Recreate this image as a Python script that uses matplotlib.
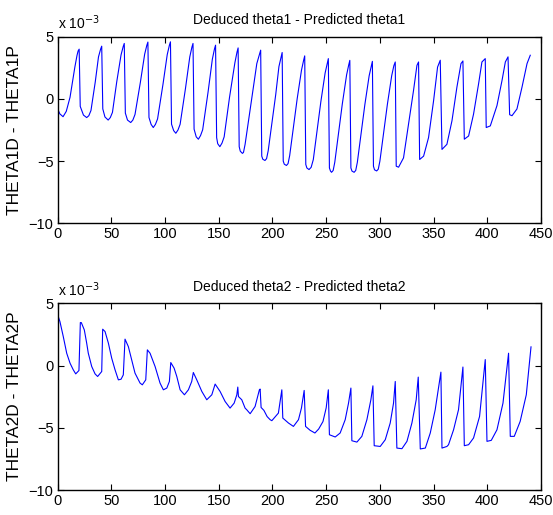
import numpy as np
import matplotlib
matplotlib.use('Agg')
import matplotlib.pyplot as plt

plt.rcParams['font.family'] = ['Liberation Sans', 'DejaVu Sans']

# values in units of 1e-3 (as shown on the axis)
# theta1: deduced - predicted, key points of the trace (sample index, value)
theta1_x = [0, 2, 5, 8, 11.5, 14, 16, 18, 19, 20,
            21, 24, 27, 29, 31, 35, 38, 40, 41,
            42, 44, 47, 49, 51, 55, 59, 61, 62,
            63, 65, 68, 70, 72, 77, 81, 83, 84,
            85, 87, 89, 91, 93, 98, 102, 104, 105,
            106, 108, 110, 112, 114, 119, 123, 125, 126,
            127, 129, 131, 133, 135, 140, 144, 146, 147,
            148, 149, 151, 153, 155, 160, 165, 167, 168,
            169, 170, 172, 173, 174.5, 181.7, 185.4, 188, 189,
            190, 191, 193, 194.5, 196, 203, 206, 208, 209,
            210, 211, 213, 214.5, 216, 223, 227, 229, 230,
            231, 232, 234, 236, 238, 245, 249, 251, 252,
            253, 254, 255, 256.5, 258, 265, 269, 271, 272,
            273, 274, 276, 277.5, 279, 286, 290, 292, 293,
            294, 295, 297, 298.5, 300, 307, 311, 313, 314.3,
            315.2, 317.4, 322, 326.7, 331.3, 334.5, 336,
            337, 340.7, 345.3, 350, 353.7, 356.2,
            357.8, 362.4, 367.1, 371.7, 375.5, 377.3,
            378.6, 382.6, 387.2, 391.9, 395, 398.1,
            399, 402.8, 409, 413.7, 416.8, 419.3,
            420.8, 423, 427.6, 432.3, 437, 440]
theta1_y = [-0.81, -1.2, -1.43, -1.0, 0.13, 1.45, 2.56, 3.5, 3.85, 4.0,
            -0.6, -1.3, -1.5, -1.35, -0.93, 1.37, 3.38, 4.01, 4.24,
            -0.8, -1.45, -1.7, -1.5, -1.08, 1.38, 3.54, 4.21, 4.46,
            -1.14, -1.7, -1.9, -1.7, -1.25, 1.34, 3.6, 4.31, 4.57,
            -1.49, -2.05, -2.3, -2.05, -1.61, 1.15, 3.56, 4.31, 4.59,
            -2.03, -2.55, -2.76, -2.5, -2.04, 0.85, 3.38, 4.17, 4.46,
            -2.43, -3.05, -3.24, -2.95, -2.48, 0.54, 3.19, 4.02, 4.32,
            -3.11, -3.6, -3.84, -3.55, -3.05, 0.13, 2.91, 3.78, 4.1,
            -3.84, -4.2, -4.38, -4.3, -3.65, 0.67, 2.84, 3.6, 3.92,
            -4.6, -4.85, -4.95, -4.8, -4.17, 0.34, 2.6, 3.38, 3.73,
            -5.0, -5.25, -5.35, -5.2, -4.56, 0.02, 2.31, 3.11, 3.46,
            -5.27, -5.55, -5.68, -5.5, -4.88, -0.24, 2.08, 2.88, 3.24,
            -5.55, -5.8, -5.9, -5.75, -5.09, -0.41, 1.93, 2.74, 3.1,
            -5.55, -5.8, -5.9, -5.75, -5.1, -0.46, 1.86, 2.66, 3.02,
            -5.41, -5.7, -5.79, -5.65, -5.0, -0.42, 1.87, 2.67, 2.97,
            -5.41, -5.49, -4.74, -2.03, 0.67, 2.7, 2.97,
            -4.87, -4.6, -3.11, -0.14, 2.56, 3.11,
            -4.06, -3.65, -1.76, 0.94, 2.84, 3.05,
            -3.24, -2.98, -1.22, 1.22, 2.97, 3.24,
            -2.3, -2.17, -0.54, 1.48, 2.97, 3.38,
            -1.27, -1.35, -0.81, 0.94, 2.84, 3.51]

# theta2: deduced - predicted
theta2_x = [0, 2.1, 5.2, 8.4, 11.5, 14.5, 16.8, 19.8,
            21.1, 22, 24.8, 27, 28.5, 31.7, 34.8, 37.2, 41,
            41.9, 44.1, 47.2, 50.3, 53.4, 56.5, 59, 61.1,
            62.7, 65.8, 68.9, 72, 76.7, 78.8, 82,
            83.5, 86, 90.7, 95.3, 98.4, 101.6, 104,
            105.3, 108.4, 110.9, 114, 118, 121.7, 124.8,
            126.3, 129.5, 134.2, 138.8, 143.5, 146.6,
            151.2, 155.9, 160.5, 164.3, 166.8, 167.7,
            168.3, 171.4, 174.5, 176, 179.2, 183.8, 187.8, 188.5,
            189.4, 192, 195, 197.8, 199.4, 205.5, 208.7,
            209.6, 214.9, 219.5, 224.2, 227, 229.5,
            230.8, 235, 239.5, 243, 247, 250, 252,
            253, 258.4, 263, 267.7, 270.8, 273,
            273.9, 278.6, 283.2, 287.9, 291.6, 293.5,
            294.7, 300.3, 305, 309.6, 312.7, 314.3,
            315.8, 320.5, 325.2, 329.8, 333.8, 335.7,
            337.6, 342.3, 346.9, 351.5, 356.8,
            357.8, 362.4, 363.9, 368.6, 373.2, 377.3,
            378.6, 382.6, 387.2, 392.8, 398.1,
            399.7, 403.7, 409, 414.6, 419.8,
            421.4, 425.1, 430.6, 436.3, 440.7]
theta2_y = [4.07, 3.53, 2.33, 0.99, 0.19, -0.34, -0.67, -0.4,
            3.45, 3.45, 2.86, 1.8, 0.99, -0.08, -0.67, -0.88, -0.48,
            2.92, 2.73, 1.8, 0.59, -0.34, -1.15, -1.1, -0.75,
            2.12, 1.52, 0.46, -0.61, -1.41, -1.55, -1.15,
            1.26, 0.99, -0.08, -1.41, -1.95, -1.81, -1.28,
            0.24, -0.21, -0.88, -1.95, -2.35, -1.95, -1.28,
            -0.56, -1.15, -2.08, -2.75, -2.35, -1.49,
            -2.08, -2.89, -3.42, -3.02, -2.35, -1.73,
            -2.49, -2.75, -3.42, -3.55, -3.87, -3.29, -1.95, -1.89,
            -3.37, -3.6, -4.1, -4.35, -4.43, -3.82, -1.95,
            -4.22, -4.62, -4.89, -4.35, -3.4, -2.0,
            -4.89, -5.2, -5.42, -5.1, -4.5, -3.4, -1.95,
            -5.56, -5.74, -5.42, -4.35, -3.02, -1.81,
            -6.04, -6.15, -5.69, -4.35, -2.75, -1.63,
            -6.44, -6.5, -5.96, -4.62, -3.02, -1.28,
            -6.63, -6.68, -6.09, -4.62, -2.75, -0.93,
            -6.7, -6.63, -5.42, -3.55, -0.53,
            -6.63, -6.5, -6.36, -5.16, -3.55, -0.12,
            -6.44, -6.36, -5.82, -4.09, 0.48,
            -6.09, -6.01, -5.16, -3.02, 0.99,
            -5.69, -5.69, -4.49, -2.35, 1.5]

panels = [
    (theta1_x, theta1_y, 'Deduced theta1 - Predicted theta1', 'THETA1D - THETA1P'),
    (theta2_x, theta2_y, 'Deduced theta2 - Predicted theta2', 'THETA2D - THETA2P'),
]

fig = plt.figure(figsize=(5.53, 5.15), dpi=100)
rects = [[0.1043, 0.5664, 0.8740, 0.3623], [0.1043, 0.0485, 0.8740, 0.3626]]

for rect, (xs, ys, title, ylab) in zip(rects, panels):
    ax = fig.add_axes(rect)
    ax.plot(xs, ys, color='#0000ff', linewidth=0.8)
    ax.set_xlim(0, 450)
    ax.set_ylim(-10, 5)
    ax.set_xticks(np.arange(0, 451, 50))
    ax.set_yticks([-10, -5, 0, 5])
    ax.tick_params(direction='in', top=True, right=True, length=4, width=0.8,
                   labelsize=10.5, pad=3)
    for s in ax.spines.values():
        s.set_linewidth(1.0)
    ax.set_title(title, fontsize=10, pad=9)
    ax.set_ylabel(ylab, fontsize=12.5, labelpad=5)
    ax.text(0.0, 1.025, r'x 10$^{-3}$', transform=ax.transAxes, fontsize=10,
            ha='left', va='bottom')

fig.savefig('out.png', dpi=100)
